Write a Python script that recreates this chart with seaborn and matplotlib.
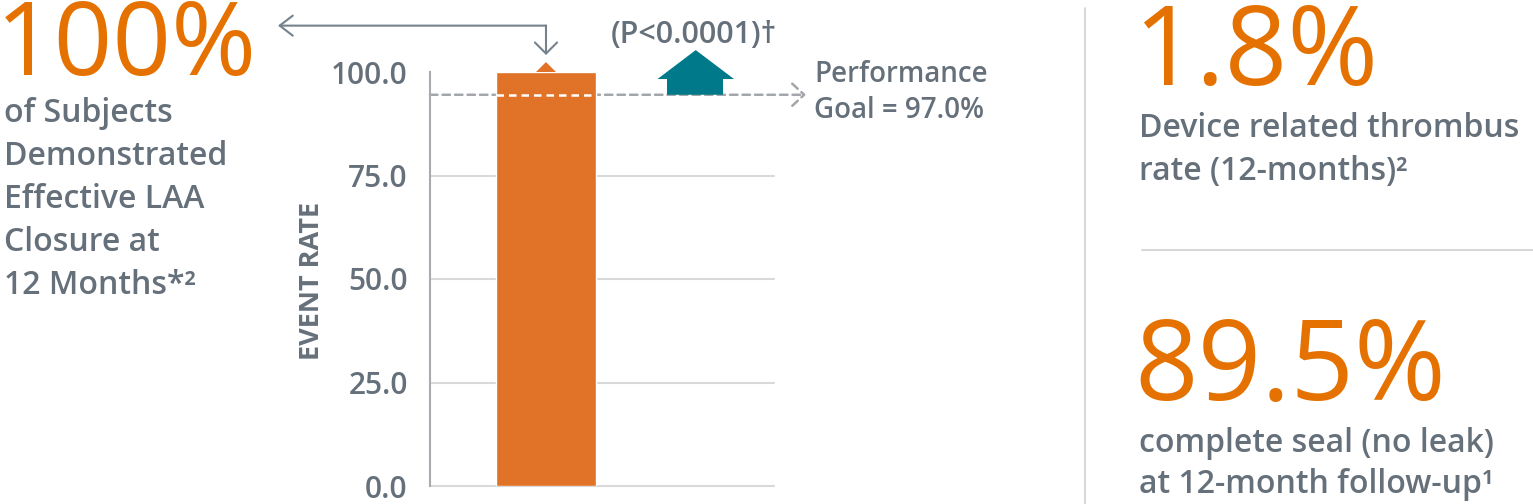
import matplotlib
matplotlib.use("Agg")
import matplotlib.pyplot as plt
import seaborn as sns
import pandas as pd

# ---------------- data ----------------
categories = ["Effective LAA Closure"]
event_rate = [100.0]
y_ticks = [0, 25, 50, 75, 100]
y_tick_labels = [f"{v:.1f}" for v in y_ticks]
goal_line_level = 94.5          # where the dashed goal line sits in the picture
goal_label = ["Performance", "Goal = 97.0%"]
p_value_label = "(P<0.0001)\u2020"
y_axis_label = "EVENT RATE"

big_left = "100%"
left_lines = ["of Subjects", "Demonstrated", "Effective LAA", "Closure at", "12 Months*\u00b2"]
big_right_top = "1.8%"
right_top_lines = ["Device related thrombus", "rate (12-months)\u00b2"]
big_right_bottom = "89.5%"
right_bottom_lines = ["complete seal (no leak)", "at 12-month follow-up\u00b9"]

# ---------------- style ----------------
ORANGE_BAR = "#E07328"
ORANGE_TXT = "#E57200"
GRAY_TXT = "#65707A"
TEAL = "#007A8A"
GRID = "#D9D9D9"
SPINE = "#A7ABAF"
DASH = "#A3A7AB"
ARROW = "#76828B"
TXT_W = 600

sns.set_style("white")
plt.rcParams["font.family"] = ["Open Sans", "DejaVu Sans"]

W, H = 1533, 504
fig = plt.figure(figsize=(W / 100, H / 100), dpi=100)
fig.patch.set_facecolor("white")

def fx(px):
    return px / W

def fy(py):
    return 1 - py / H

ax = fig.add_axes([fx(430), 18 / H, 344 / W, 414 / H])

df = pd.DataFrame({"cat": categories, "rate": event_rate})
sns.barplot(data=df, x="cat", y="rate", color=ORANGE_BAR, width=0.8,
            saturation=1, ax=ax, zorder=3)

ax.set_xlim(-0.928, 1.824)
ax.set_ylim(0, 100)
ax.set_xlabel("")
ax.set_ylabel("")
ax.set_xticks([])
ax.set_yticks(y_ticks)
ax.set_yticklabels(y_tick_labels, fontweight=TXT_W)
ax.tick_params(axis="y", length=5, width=1.5, color=SPINE, pad=11,
               labelsize=21.5, labelcolor=GRAY_TXT)
for s in ["top", "right", "bottom"]:
    ax.spines[s].set_visible(False)
ax.spines["left"].set_color(SPINE)
ax.spines["left"].set_linewidth(1.5)
ax.yaxis.grid(True, color=GRID, linewidth=1.5, zorder=0)
ax.set_axisbelow(True)
ax.get_ygridlines()[-1].set_visible(False)
for gl in ax.get_ygridlines():
    gl.set_clip_on(False)

# small triangle on bar top
bar = ax.patches[0]
cx = bar.get_x() + bar.get_width() / 2
top = bar.get_height()
ax.fill([cx - 0.08, cx, cx + 0.08], [top, top + 2.4, top], color=ORANGE_BAR,
        zorder=3, clip_on=False, lw=0)

# goal dashed line (gray) + white over the bar
x_left = ax.get_xlim()[0]
ax.annotate("", xy=(2.08, goal_line_level), xytext=(x_left, goal_line_level),
            arrowprops=dict(arrowstyle="->,head_length=0.43,head_width=0.4",
                            color=DASH, lw=1.8, linestyle=(0, (3, 2)),
                            mutation_scale=20, shrinkA=0, shrinkB=0),
            annotation_clip=False, zorder=2)
ax.plot([bar.get_x(), bar.get_x() + bar.get_width()], [goal_line_level] * 2,
        color="white", lw=1.8, linestyle=(0, (3, 2)), zorder=4)

# teal up-arrow
ax.fill([0.968, 0.968, 0.892, 1.198, 1.504, 1.416, 1.416],
        [goal_line_level, 98.3, 98.3, 105.3, 98.3, 98.3, goal_line_level],
        color=TEAL, lw=0, zorder=3, clip_on=False)

# L-shaped pointer arrow
y_top = 111.2
ax.annotate("", xy=(-2.144, y_top), xytext=(cx, y_top),
            arrowprops=dict(arrowstyle="->,head_length=0.47,head_width=0.36",
                            color=ARROW, lw=1.5,
                            mutation_scale=20, shrinkA=0, shrinkB=0),
            annotation_clip=False)
ax.annotate("", xy=(cx, 104.1), xytext=(cx, y_top),
            arrowprops=dict(arrowstyle="->,head_length=0.4,head_width=0.4",
                            color=ARROW, lw=1.5,
                            mutation_scale=20, shrinkA=0, shrinkB=0),
            annotation_clip=False)

# axis label
fig.text(fx(312), fy(281), y_axis_label, rotation=90, ha="center", va="center",
         fontsize=19.5, fontweight="bold", color=GRAY_TXT)

# p-value and goal label
fig.text(fx(611), fy(43), p_value_label, fontsize=22, color=GRAY_TXT,
         va="baseline", fontweight=TXT_W)
fig.text(fx(814), fy(82), goal_label[0], fontsize=20, color=GRAY_TXT,
         va="baseline", fontweight=TXT_W)
fig.text(fx(814), fy(118), goal_label[1], fontsize=20, color=GRAY_TXT,
         va="baseline", fontweight=TXT_W)

# left panel text
fig.text(fx(-4), fy(75), big_left, fontsize=74, color=ORANGE_TXT, va="baseline")
for i, line in enumerate(left_lines):
    fig.text(fx(4), fy(122 + 43 * i), line, fontsize=23, color=GRAY_TXT,
             va="baseline", fontweight=TXT_W)

# right panel
fig.add_artist(plt.Line2D([fx(1085), fx(1085)], [fy(8), fy(504)], color="#CFCFCF", lw=1.2))
fig.add_artist(plt.Line2D([fx(1142), fx(1533)], [fy(250), fy(250)], color="#CFCFCF", lw=1.2))

fig.text(fx(1133), fy(85), big_right_top, fontsize=79, color=ORANGE_TXT, va="baseline")
for i, line in enumerate(right_top_lines):
    fig.text(fx(1139), fy(137 + 43 * i), line, fontsize=23, color=GRAY_TXT,
             va="baseline", fontweight=TXT_W)

fig.text(fx(1134), fy(400), big_right_bottom, fontsize=80, color=ORANGE_TXT, va="baseline")
for i, line in enumerate(right_bottom_lines):
    fig.text(fx(1139), fy(452 + 41 * i), line, fontsize=23, color=GRAY_TXT,
             va="baseline", fontweight=TXT_W)

fig.savefig("out.png", dpi=100, facecolor="white")
